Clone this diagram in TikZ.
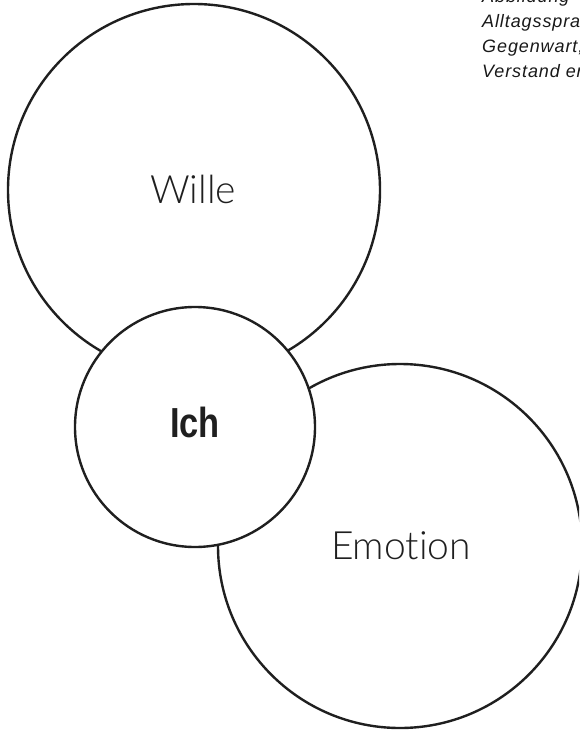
\documentclass[tikz,border=0pt]{standalone}
\usepackage{fontspec}
\setmainfont{Liberation Sans}
\newfontfamily\lightfont[Ligatures=NoCommon]{Lato Light}
\begin{document}
\begin{tikzpicture}[x=1pt,y=-1pt,
  ring/.style={circle,draw=black!88,line width=2.4pt,fill=white,inner sep=0pt},
  plain/.style={font=\lightfont\fontsize{39}{39}\selectfont,text=black!88},
  note/.style={anchor=base west,inner sep=0pt,
    font=\fontsize{18}{18}\selectfont\itshape\addfontfeatures{LetterSpace=5},text=black!90}]
  \useasboundingbox (0,0) rectangle (579,733);
  \begin{scope}
    \clip (0,0) rectangle (579,733);
    % caption lines at the top right, running past the edge
    \node[note] (cap1) at (482,3)  {Abbildung};
    \node[note] (cap2) at (482,28) {Alltagssprache};
    \node[note] (cap3) at (482,53) {Gegenwart,};
    \node[note] (cap4) at (482,78) {Verstand erst};
    % the three circles, the small one on top
    \node[ring,minimum size=372pt] (wille) at (194,190) {};
    \node[ring,minimum size=364pt] (emotion) at (400,546) {};
    \node[ring,minimum size=240pt] (ich) at (195,427) {};
  \end{scope}
  \node[plain] (willetext) at (193,189) {Wille};
  \node[plain] (emotiontext) at (401,545.5) {Emotion};
  \node[font=\fontsize{42}{42}\selectfont\bfseries,text=black!88] (ichtext) at (195,422)
    {\scalebox{0.82}[1]{Ich}};
\end{tikzpicture}
\end{document}
